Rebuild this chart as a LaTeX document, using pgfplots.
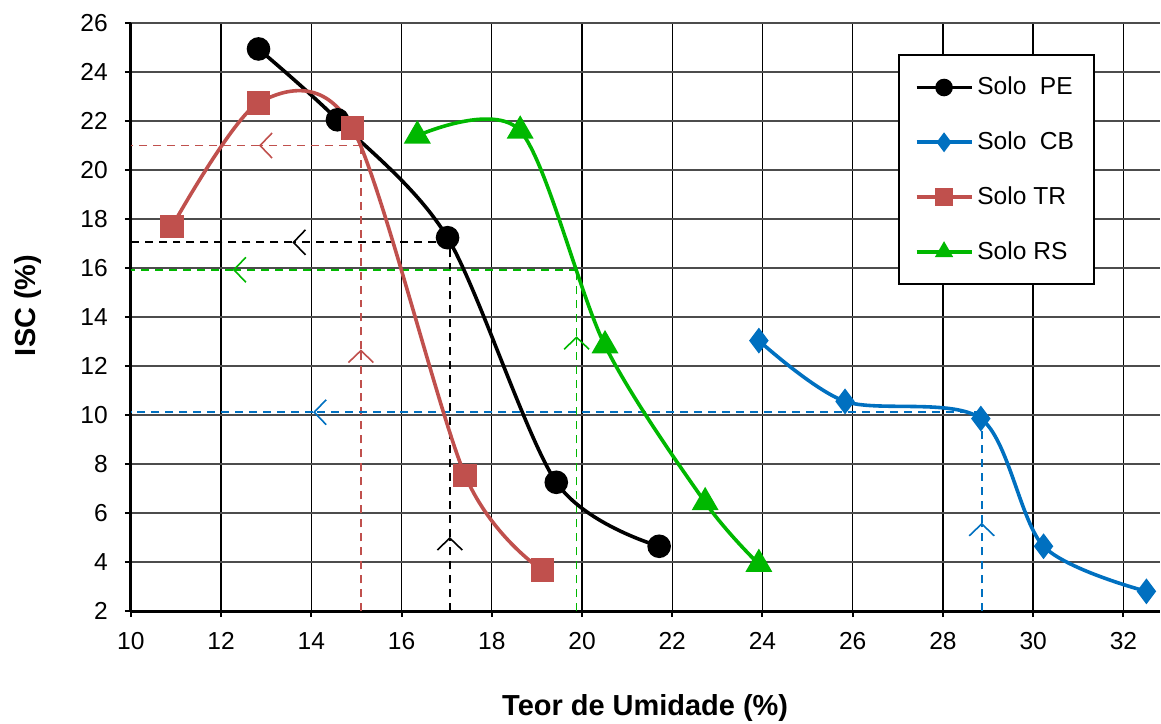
\documentclass[border=0pt]{standalone}
\usepackage{fontspec}
\setmainfont{Liberation Sans}
\usepackage{pgfplots}
\pgfplotsset{compat=1.18}
\usetikzlibrary{arrows.meta}
\definecolor{cbblue}{RGB}{0,112,192}
\definecolor{trred}{RGB}{192,80,77}
\definecolor{rsgreen}{RGB}{0,184,0}
\tikzset{guide/.style={line width=0.9pt, dash pattern=on 4pt off 3pt},
  chev/.style={-{Straight Barb[length=6pt,width=12.5pt,line width=0.8pt]}}}
\begin{document}
\begin{tikzpicture}
\begin{axis}[
  name=ax,
  scale only axis, width=515pt, height=294.5pt,
  xmin=10, xmax=32.8, ymin=2, ymax=26,
  xtick={10,12,...,32}, ytick={2,4,...,26},
  axis lines=left, axis line style={-, line width=1.5pt},
  tick align=outside, major tick length=3pt, tick style={line width=1pt, black},
  grid=major, x grid style={black, line width=0.7pt}, y grid style={black!70, line width=0.8pt},
  ticklabel style={font=\fontsize{12.3}{14}\selectfont},
  xticklabel style={yshift=-4pt},
  yticklabel style={xshift=-5pt},
  /pgf/number format/assume math mode=true,
  xlabel={Teor de Umidade (\%)}, ylabel={ISC (\%)},
  label style={font=\bfseries\fontsize{14.5}{16}\selectfont, inner sep=0pt},
  xlabel style={at={(axis description cs:0.5,-0.1647)}, anchor=center},
  ylabel style={at={(axis description cs:-0.0995,0.52)}, anchor=center},
  clip=false,
  legend style={at={(0.7456,0.947)}, anchor=north west, draw=black, line width=1pt,
    font=\fontsize{12.3}{14}\selectfont, row sep=13pt, inner xsep=8pt, inner ysep=9pt},
  legend cell align=left,
  legend image code/.code={\draw[mark repeat=2, mark phase=2, #1, mark size=3.5pt] plot coordinates {(0pt,0pt) (13.75pt,0pt) (27.5pt,0pt)};},
]
% guide lines
\addplot[trred, guide, chev, forget plot] coordinates {(15.1,21) (12.84,21)};
\addplot[trred, guide, forget plot] coordinates {(12.84,21) (10,21)};
\addplot[trred, guide, chev, forget plot] coordinates {(15.1,2) (15.1,12.68)};
\addplot[trred, guide, forget plot] coordinates {(15.1,12.68) (15.1,21)};
\addplot[black, guide, chev, forget plot] coordinates {(17.07,17.05) (13.58,17.05)};
\addplot[black, guide, forget plot] coordinates {(13.58,17.05) (10,17.05)};
\addplot[black, guide, chev, forget plot] coordinates {(17.07,2) (17.07,5.03)};
\addplot[black, guide, forget plot] coordinates {(17.07,5.03) (17.07,17.05)};
\addplot[rsgreen, guide, chev, forget plot] coordinates {(19.88,15.93) (12.26,15.93)};
\addplot[rsgreen, guide, forget plot] coordinates {(12.26,15.93) (10,15.93)};
\addplot[rsgreen, guide, chev, forget plot] coordinates {(19.88,2) (19.88,13.22)};
\addplot[rsgreen, guide, forget plot] coordinates {(19.88,13.22) (19.88,15.93)};
\addplot[cbblue, guide, chev, forget plot] coordinates {(28.86,10.12) (14.04,10.12)};
\addplot[cbblue, guide, forget plot] coordinates {(14.04,10.12) (10,10.12)};
\addplot[cbblue, guide, chev, forget plot] coordinates {(28.86,2) (28.86,5.61)};
\addplot[cbblue, guide, forget plot] coordinates {(28.86,5.61) (28.86,10.12)};
% data
\addplot[black, line width=1.8pt, smooth, mark=*, mark size=5pt] coordinates {(12.83,24.94) (14.58,22.05) (17.02,17.24) (19.43,7.26) (21.71,4.65)};
\addlegendentry{Solo\hspace{0.55em}PE}
\addplot[cbblue, line width=1.8pt, smooth, mark=diamond*, mark size=5pt, mark options={solid}] coordinates {(23.92,13.04) (25.83,10.56) (28.84,9.86) (30.23,4.65) (32.51,2.81)};
\addlegendentry{Solo\hspace{0.55em}CB}
\addplot[trred, line width=1.8pt, smooth, mark=square*, mark size=5pt] coordinates {(10.91,17.69) (12.83,22.74) (14.91,21.72) (17.41,7.54) (19.12,3.67)};
\addlegendentry{Solo TR}
\addplot[rsgreen, line width=1.8pt, smooth, mark=triangle*, mark size=6pt] coordinates {(16.35,21.4) (18.63,21.6) (20.51,12.84) (22.73,6.44) (23.92,3.92)};
\addlegendentry{Solo RS}
\end{axis}
\path ([xshift=-65.5pt,yshift=-56pt]ax.south west) rectangle ([yshift=11.5pt]ax.north east);
\end{tikzpicture}
\end{document}
